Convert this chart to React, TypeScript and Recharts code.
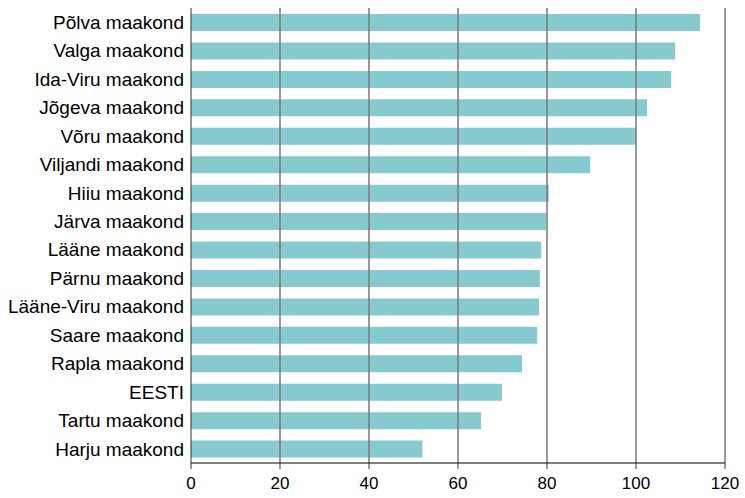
import { BarChart, Bar, XAxis, YAxis, ReferenceLine } from 'recharts';

const REGIONS = [
  'Põlva maakond', 'Valga maakond', 'Ida-Viru maakond', 'Jõgeva maakond',
  'Võru maakond', 'Viljandi maakond', 'Hiiu maakond', 'Järva maakond',
  'Lääne maakond', 'Pärnu maakond', 'Lääne-Viru maakond', 'Saare maakond',
  'Rapla maakond', 'EESTI', 'Tartu maakond', 'Harju maakond',
];

const VALUES = [
  114.4, 108.8, 107.9, 102.5, 100.0, 89.7, 80.4, 79.8,
  78.7, 78.4, 78.2, 77.8, 74.4, 69.9, 65.2, 52.0,
];

const X_TICKS = [0, 20, 40, 60, 80, 100, 120];
const GRID_LINES = [20, 40, 60, 80, 100, 120];

const data = REGIONS.map((name, i) => ({ name, value: VALUES[i] }));

const FONT = '"Liberation Sans", Arial, sans-serif';

export default function App() {
  return (
    <div style={{ position: 'absolute', left: 0, top: 0, background: '#fff' }}>
      <BarChart
        width={745}
        height={498}
        data={data}
        layout="vertical"
        margin={{ top: 8, right: 20, bottom: 0, left: 0 }}
        barSize={17}
      >
        {/* invisible spacer so the x axis line sits a little below the plot */}
        <XAxis
          xAxisId="spacer"
          type="number"
          domain={[0, 120]}
          height={6}
          tick={false}
          axisLine={false}
          tickLine={false}
        />
        <XAxis
          xAxisId="main"
          type="number"
          domain={[0, 120]}
          ticks={X_TICKS}
          height={29}
          axisLine={{ stroke: '#000', strokeWidth: 1 }}
          tickLine={{ stroke: '#333', strokeWidth: 1 }}
          tickSize={6}
          tickMargin={8}
          tick={{ fill: '#000', fontSize: 17, fontFamily: FONT }}
        />
        <YAxis
          type="category"
          dataKey="name"
          width={191}
          axisLine={{ stroke: '#333', strokeWidth: 1 }}
          tickLine={false}
          tickSize={0}
          tickMargin={7}
          interval={0}
          tick={{ fill: '#000', fontSize: 19, fontFamily: FONT }}
        />
        <Bar
          xAxisId="main"
          dataKey="value"
          fill="#86c9cf"
          isAnimationActive={false}
        />
        {GRID_LINES.map((v) => (
          <ReferenceLine
            key={v}
            xAxisId="main"
            x={v}
            stroke="#777"
            strokeWidth={1.5}
          />
        ))}
      </BarChart>
    </div>
  );
}
